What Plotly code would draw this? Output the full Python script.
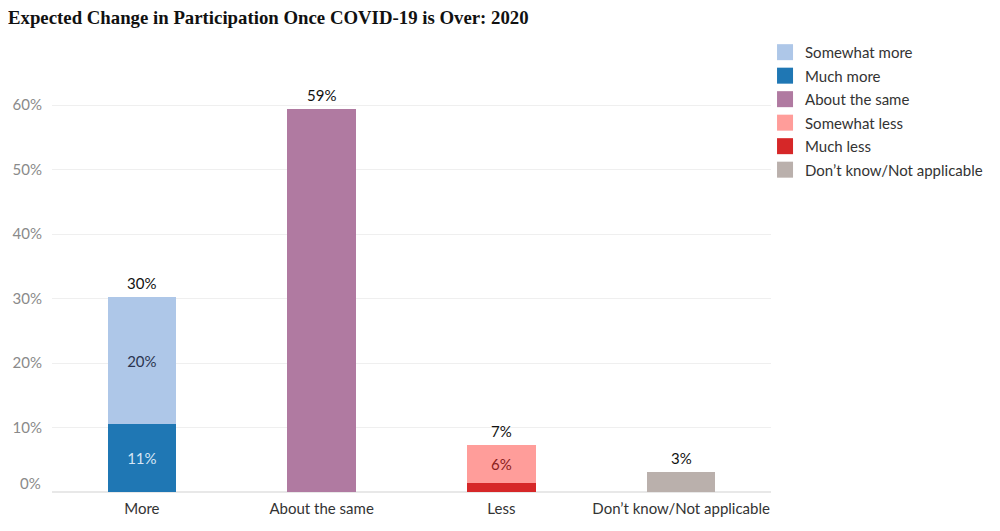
import plotly.graph_objects as go

categories = ["More", "About the same", "Less", "Don’t know/Not applicable"]
series_names = ["Much more", "Somewhat more", "About the same", "Much less", "Somewhat less", "Don’t know/Not applicable"]
much_more = [10.6, 0, 0, 0]
somewhat_more = [19.6, 0, 0, 0]
about_same = [0, 59.4, 0, 0]
much_less = [0, 0, 1.4, 0]
somewhat_less = [0, 0, 5.9, 0]
dont_know = [0, 0, 0, 3.1]
inside_labels = {"Much more": "11%", "Somewhat more": "20%", "Somewhat less": "6%"}
total_labels = ["30%", "59%", "7%", "3%"]
y_ticks = [0, 10, 20, 30, 40, 50, 60]
legend_order = ["Somewhat more", "Much more", "About the same", "Somewhat less", "Much less", "Don’t know/Not applicable"]

colors = {
    "Much more": "#1f77b4",
    "Somewhat more": "#aec7e8",
    "About the same": "#b07aa1",
    "Much less": "#d62728",
    "Somewhat less": "#ff9d9a",
    "Don’t know/Not applicable": "#bab0ac",
}
label_colors = {"Much more": "#d6e6f5", "Somewhat more": "#2b3550", "Somewhat less": "#8a1c1c"}
values = [much_more, somewhat_more, about_same, much_less, somewhat_less, dont_know]

FONT = "Lato"
FS = 15
fig = go.Figure()
for name, vals in zip(series_names, values):
    xs = [c for c, v in zip(categories, vals) if v > 0]
    ys = [v for v in vals if v > 0]
    txt = [inside_labels.get(name, "")] * len(ys)
    fig.add_trace(go.Bar(
        x=xs, y=ys, name=name, marker=dict(color=colors[name], line=dict(width=0)),
        text=txt, textposition="inside", insidetextanchor="middle",
        textfont=dict(color=label_colors.get(name, "#333"), size=FS, family=FONT),
        showlegend=False, width=0.38, hoverinfo="skip",
    ))

# legend entries (square swatches)
for i, name in enumerate(legend_order):
    fig.add_trace(go.Scatter(
        x=[None], y=[None], mode="markers", name=name,
        marker=dict(symbol="square", size=16, color=colors[name]),
        legendgroup=f"g{i}", legendrank=i + 1, hoverinfo="skip",
    ))

totals = [sum(v[i] for v in values) for i in range(len(categories))]
for c, t, lab in zip(categories, totals, total_labels):
    fig.add_annotation(x=c, y=t, text=lab, showarrow=False, yanchor="bottom", yshift=3,
                       font=dict(size=FS, color="#111", family=FONT))

# 0% tick label sits slightly above the baseline, as in the original
fig.add_annotation(xref="paper", x=0, y=y_ticks[0], text=f"{y_ticks[0]}%", showarrow=False,
                   xanchor="right", yanchor="middle", xshift=-9, yshift=9,
                   font=dict(size=FS, color="#8a8a8a", family=FONT))

fig.update_layout(
    width=1000, height=531, barmode="stack",
    margin=dict(l=44, r=237, t=65, b=47, autoexpand=False),
    paper_bgcolor="white", plot_bgcolor="white",
    font=dict(family=FONT, size=FS, color="#333"),
    title=dict(text="<b>Expected Change in Participation Once COVID-19 is Over: 2020</b>",
               x=0.0, xanchor="left", y=0.983, yanchor="middle",
               font=dict(family="Liberation Serif", size=18.8, color="#111")),
    legend=dict(x=0.9917, xanchor="left", y=1.0885, yanchor="top", traceorder="grouped",
                font=dict(size=FS, color="#333", family=FONT), tracegroupgap=1,
                itemwidth=30, bgcolor="rgba(0,0,0,0)", itemsizing="trace"),
    bargap=0.62,
)
fig.update_yaxes(range=[0, 65], tickvals=y_ticks[1:], ticktext=[f"{t}%" for t in y_ticks[1:]],
                 showgrid=True, gridcolor="#efefef", zeroline=True, zerolinecolor="#e8e8e8",
                 tickfont=dict(color="#8a8a8a", size=FS, family=FONT), ticks="", ticklabelstandoff=9,
                 automargin=False)
fig.update_xaxes(showgrid=False, tickfont=dict(color="#333", size=FS, family=FONT), ticks="",
                 ticklabelstandoff=6, automargin=False)

fig.write_html("out.html")
